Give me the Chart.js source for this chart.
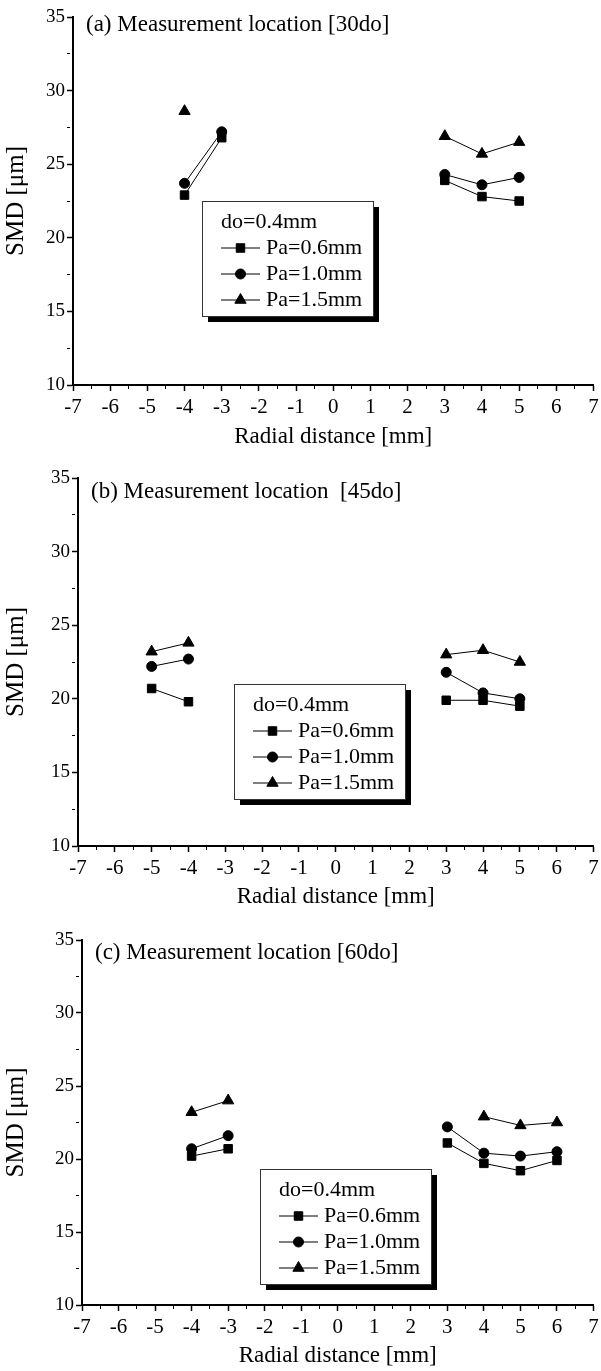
<!DOCTYPE html>
<html>
<head>
<meta charset="utf-8">
<script src="https://cdn.jsdelivr.net/npm/chart.js@4.4.1/dist/chart.umd.min.js"></script>
<style>
  html, body { margin: 0; padding: 0; background: #fff; }
  canvas { display: block; }
</style>
</head>
<body>
<canvas id="chartA" width="601" height="452"></canvas>
<canvas id="chartB" width="601" height="460"></canvas>
<canvas id="chartC" width="601" height="459"></canvas>
<script>
// series / legend
const seriesLabels = ['Pa=0.6mm', 'Pa=1.0mm', 'Pa=1.5mm']
const legendHeader = 'do=0.4mm'
const markers = ['rect', 'circle', 'triangle']

// axes
const xTitle = 'Radial distance [mm]'
const yTitle = 'SMD [μm]'
const xTicks = [-7, -6, -5, -4, -3, -2, -1, 0, 1, 2, 3, 4, 5, 6, 7]
const yTicks = [10, 15, 20, 25, 30, 35]

// (a) 30do
const xA = [-4, -3, 3, 4, 5]
const sqA = [22.9, 26.8, 23.9, 22.8, 22.5]
const ciA = [23.7, 27.2, 24.3, 23.6, 24.1]
const trA = [28.6, null, 26.9, 25.7, 26.5]

// (b) 45do
const xB = [-5, -4, 3, 4, 5]
const sqB = [20.7, 19.8, 19.9, 19.9, 19.5]
const ciB = [22.2, 22.7, 21.8, 20.4, 20.0]
const trB = [23.2, 23.8, 23.0, 23.3, 22.5]

// (c) 60do
const xC = [-4, -3, 3, 4, 5, 6]
const sqC = [20.2, 20.7, 21.1, 19.7, 19.2, 19.9]
const ciC = [20.7, 21.6, 22.2, 20.4, 20.2, 20.5]
const trC = [23.2, 24.0, null, 22.9, 22.3, 22.5]

const FONT = '"Liberation Serif", "Times New Roman", serif'

const panels = [
    { id: 'chartA', title: '(a) Measurement location [30do]', xs: xA, ys: [sqA, ciA, trA],
      area: { left: 73, right: 594, top: 17, bottom: 385 }, titleAt: { dx: 13, dy: 8 }, legendAt: { dx: 129, dy: 184 } },
    { id: 'chartB', title: '(b) Measurement location  [45do]', xs: xB, ys: [sqB, ciB, trB],
      area: { left: 78, right: 594, top: 26, bottom: 394 }, titleAt: { dx: 13, dy: 14 }, legendAt: { dx: 156, dy: 206 } },
    { id: 'chartC', title: '(c) Measurement location [60do]', xs: xC, ys: [sqC, ciC, trC],
      area: { left: 82, right: 597, top: 28, bottom: 393 }, titleAt: { dx: 13, dy: 13 }, legendAt: { dx: 178, dy: 229 } }
]

// legend box with drop shadow, drawn inside the plot
const legendBox = {
    id: 'legendBox',
    afterDatasetsDraw(chart, args, opts) {
        const ctx = chart.ctx
        const { left, top } = chart.chartArea
        const x = left + opts.dx, y = top + opts.dy, w = 171, h = 115
        ctx.save()
        ctx.fillStyle = '#000'
        ctx.fillRect(x + 6, y + 6, w, h)
        ctx.fillStyle = '#fff'
        ctx.fillRect(x, y, w, h)
        ctx.strokeStyle = '#333'
        ctx.lineWidth = 1
        ctx.strokeRect(x + 0.5, y + 0.5, w, h)
        ctx.fillStyle = '#000'
        ctx.font = '22px ' + FONT
        ctx.textBaseline = 'middle'
        ctx.fillText(legendHeader, x + 19, y + 21)
        chart.data.datasets.forEach((ds, i) => {
            const cy = y + 47 + i * 26
            ctx.beginPath()
            ctx.moveTo(x + 19, cy)
            ctx.lineTo(x + 58, cy)
            ctx.strokeStyle = '#000'
            ctx.lineWidth = 1
            ctx.stroke()
            ctx.fillStyle = '#000'
            Chart.helpers.drawPoint(ctx, { pointStyle: ds.pointStyle, radius: ds.pointRadius, rotation: 0, borderWidth: 1 }, x + 38.5, cy)
            ctx.fillStyle = '#000'
            ctx.fillText(ds.label, x + 64, cy)
        })
        ctx.restore()
    }
}

// "(a) Measurement location ..." inside the top left of the plot
const panelTitle = {
    id: 'panelTitle',
    afterDraw(chart, args, opts) {
        const ctx = chart.ctx
        ctx.save()
        ctx.fillStyle = '#000'
        ctx.font = '23px ' + FONT
        ctx.textBaseline = 'middle'
        ctx.fillText(opts.text, chart.chartArea.left + opts.dx, chart.chartArea.top + opts.dy)
        ctx.restore()
    }
}

const isMajor = (ctx, list) => ctx.tick && list.includes(ctx.tick.value)

function printPanel(p) {
    const canvas = document.getElementById(p.id)
    const W = canvas.width, H = canvas.height

    const datasets = p.ys.map((vals, i) => ({
        label: seriesLabels[i],
        data: p.xs.map((x, j) => ({ x, y: vals[j] })),
        borderColor: '#000',
        borderWidth: 1,
        backgroundColor: '#000',
        pointStyle: markers[i],
        pointRadius: markers[i] === 'circle' ? 5 : (markers[i] === 'rect' ? 6 : 6.5),
        pointBackgroundColor: '#000',
        pointBorderColor: '#000',
        pointBorderWidth: 1,
        spanGaps: false,
        segment: {
            // no line across the centre gap
            borderColor: ctx => (ctx.p1.parsed.x - ctx.p0.parsed.x > 1.5 ? 'rgba(0,0,0,0)' : undefined)
        }
    }))

    new Chart(canvas, {
        type: 'line',
        data: { datasets },
        options: {
            responsive: false,
            animation: false,
            devicePixelRatio: 1,
            layout: { padding: { left: 0, top: p.area.top, right: W - p.area.right, bottom: 0 } },
            scales: {
                x: {
                    type: 'linear', min: -7, max: 7,
                    border: { display: true, color: '#000', width: 2 },
                    grid: {
                        drawOnChartArea: false, drawTicks: true, tickLength: 6, tickColor: '#000',
                        tickWidth: ctx => isMajor(ctx, xTicks) ? 1.5 : 1,
                        tickBorderDash: ctx => isMajor(ctx, xTicks) ? [] : [3, 20]
                    },
                    ticks: {
                        stepSize: 0.5, autoSkip: false, maxRotation: 0, padding: 4, color: '#000',
                        font: { family: FONT, size: 21 },
                        callback: v => xTicks.includes(v) ? v : ''
                    },
                    title: {
                        display: true, text: xTitle, color: '#000',
                        font: { family: FONT, size: 23, lineHeight: 1.2 },
                        padding: { top: 0, bottom: 1 }
                    },
                    afterFit: s => { s.height = H - p.area.bottom; s.paddingLeft = 0; s.paddingRight = 0 }
                },
                y: {
                    min: 10, max: 35,
                    border: { display: true, color: '#000', width: 2 },
                    grid: {
                        drawOnChartArea: false, drawTicks: true, tickLength: 6, tickColor: '#000',
                        tickWidth: ctx => isMajor(ctx, yTicks) ? 1.5 : 1,
                        tickBorderDash: ctx => isMajor(ctx, yTicks) ? [] : [3, 20]
                    },
                    ticks: {
                        stepSize: 2.5, padding: 2, color: '#000',
                        font: { family: FONT, size: 19 },
                        callback: v => yTicks.includes(v) ? v : ''
                    },
                    title: {
                        display: true, text: yTitle, color: '#000',
                        font: { family: FONT, size: 25, lineHeight: 1.2 },
                        padding: { top: 1, bottom: 0 }
                    },
                    afterFit: s => { s.width = p.area.left }
                }
            },
            plugins: {
                legend: { display: false },
                tooltip: { enabled: false },
                legendBox: p.legendAt,
                panelTitle: { text: p.title, dx: p.titleAt.dx, dy: p.titleAt.dy }
            }
        },
        plugins: [legendBox, panelTitle]
    })
}

panels.forEach(printPanel)
</script>
</body>
</html>
